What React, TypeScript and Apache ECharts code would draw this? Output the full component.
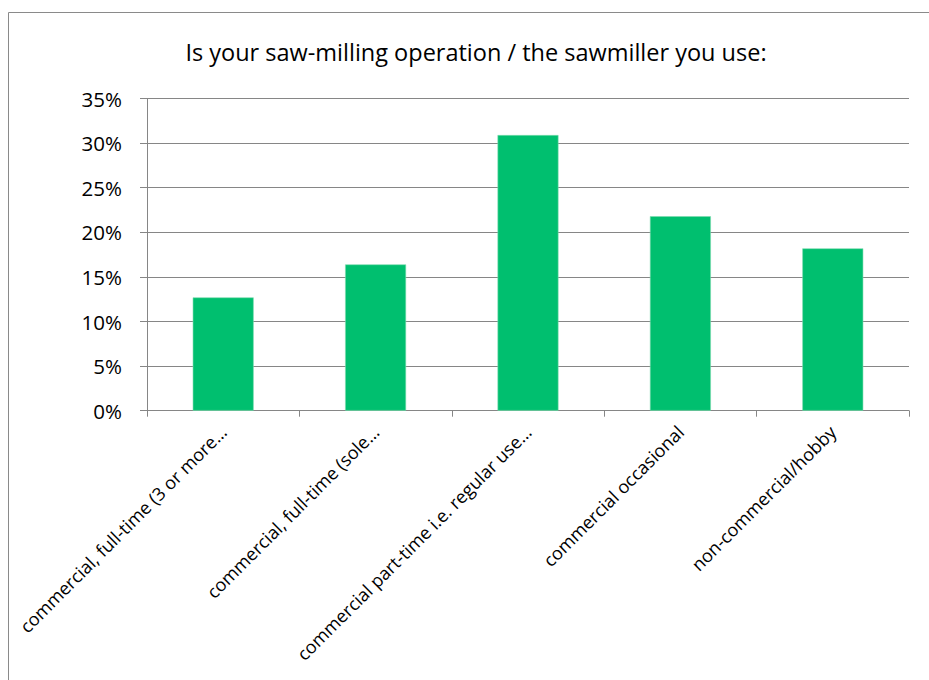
import React, { useEffect, useRef } from "react";
import * as echarts from "echarts";

const titleText = "Is your saw-milling operation / the sawmiller you use:";
const categories = [
  "commercial, full-time (3 or more…",
  "commercial, full-time (sole…",
  "commercial part-time i.e. regular use…",
  "commercial occasional",
  "non-commercial/hobby",
];
const values = [12.7, 16.4, 30.9, 21.8, 18.2];
const yTicks = { min: 0, max: 35, interval: 5 };

export default function App() {
  const ref = useRef<HTMLDivElement>(null);
  useEffect(() => {
    if (!ref.current) return;
    const chart = echarts.init(ref.current, undefined, { renderer: "svg" });
    const font = "'Open Sans', 'Noto Sans', sans-serif";
    chart.setOption({
      animation: false,
      backgroundColor: "#ffffff",
      textStyle: { fontFamily: font },
      title: {
        text: titleText,
        left: 471,
        top: 35,
        textAlign: "center",
        textStyle: { fontFamily: font, fontSize: 23.5, fontWeight: "normal", color: "#000" },
      },
      graphic: [
        {
          type: "rect",
          shape: { x: 8.5, y: 12.5, width: 960, height: 720 },
          style: { fill: "none", stroke: "#8a8a8a", lineWidth: 1 },
          silent: true,
        },
      ],
      grid: { left: 147, right: 20, top: 98.5, bottom: 269.3, containLabel: false },
      xAxis: {
        type: "category",
        data: categories,
        axisLine: { show: true, lineStyle: { color: "#868686", width: 1 } },
        axisTick: { show: true, length: 6, lineStyle: { color: "#868686" } },
        axisLabel: {
          rotate: 45,
          interval: 0,
          margin: 18,
          fontSize: 18,
          color: "#000",
          fontFamily: font,
        },
      },
      yAxis: {
        type: "value",
        min: yTicks.min,
        max: yTicks.max,
        interval: yTicks.interval,
        axisLine: { show: true, lineStyle: { color: "#868686", width: 1 } },
        axisTick: { show: true, length: 7, lineStyle: { color: "#868686" } },
        splitLine: { show: true, lineStyle: { color: "#868686", width: 1 } },
        axisLabel: {
          formatter: "{value}%",
          margin: 25,
          fontSize: 20.5,
          color: "#000",
          fontFamily: font,
        },
      },
      series: [
        {
          type: "bar",
          data: values,
          barWidth: "40%",
          itemStyle: { color: "#00BF6F", borderColor: "#7ddcb0", borderWidth: 0.6 },
        },
      ],
    });
    return () => chart.dispose();
  }, []);
  return (
    <div
      ref={ref}
      style={{ position: "fixed", left: 0, top: 0, width: 929, height: 680 }}
    />
  );
}
